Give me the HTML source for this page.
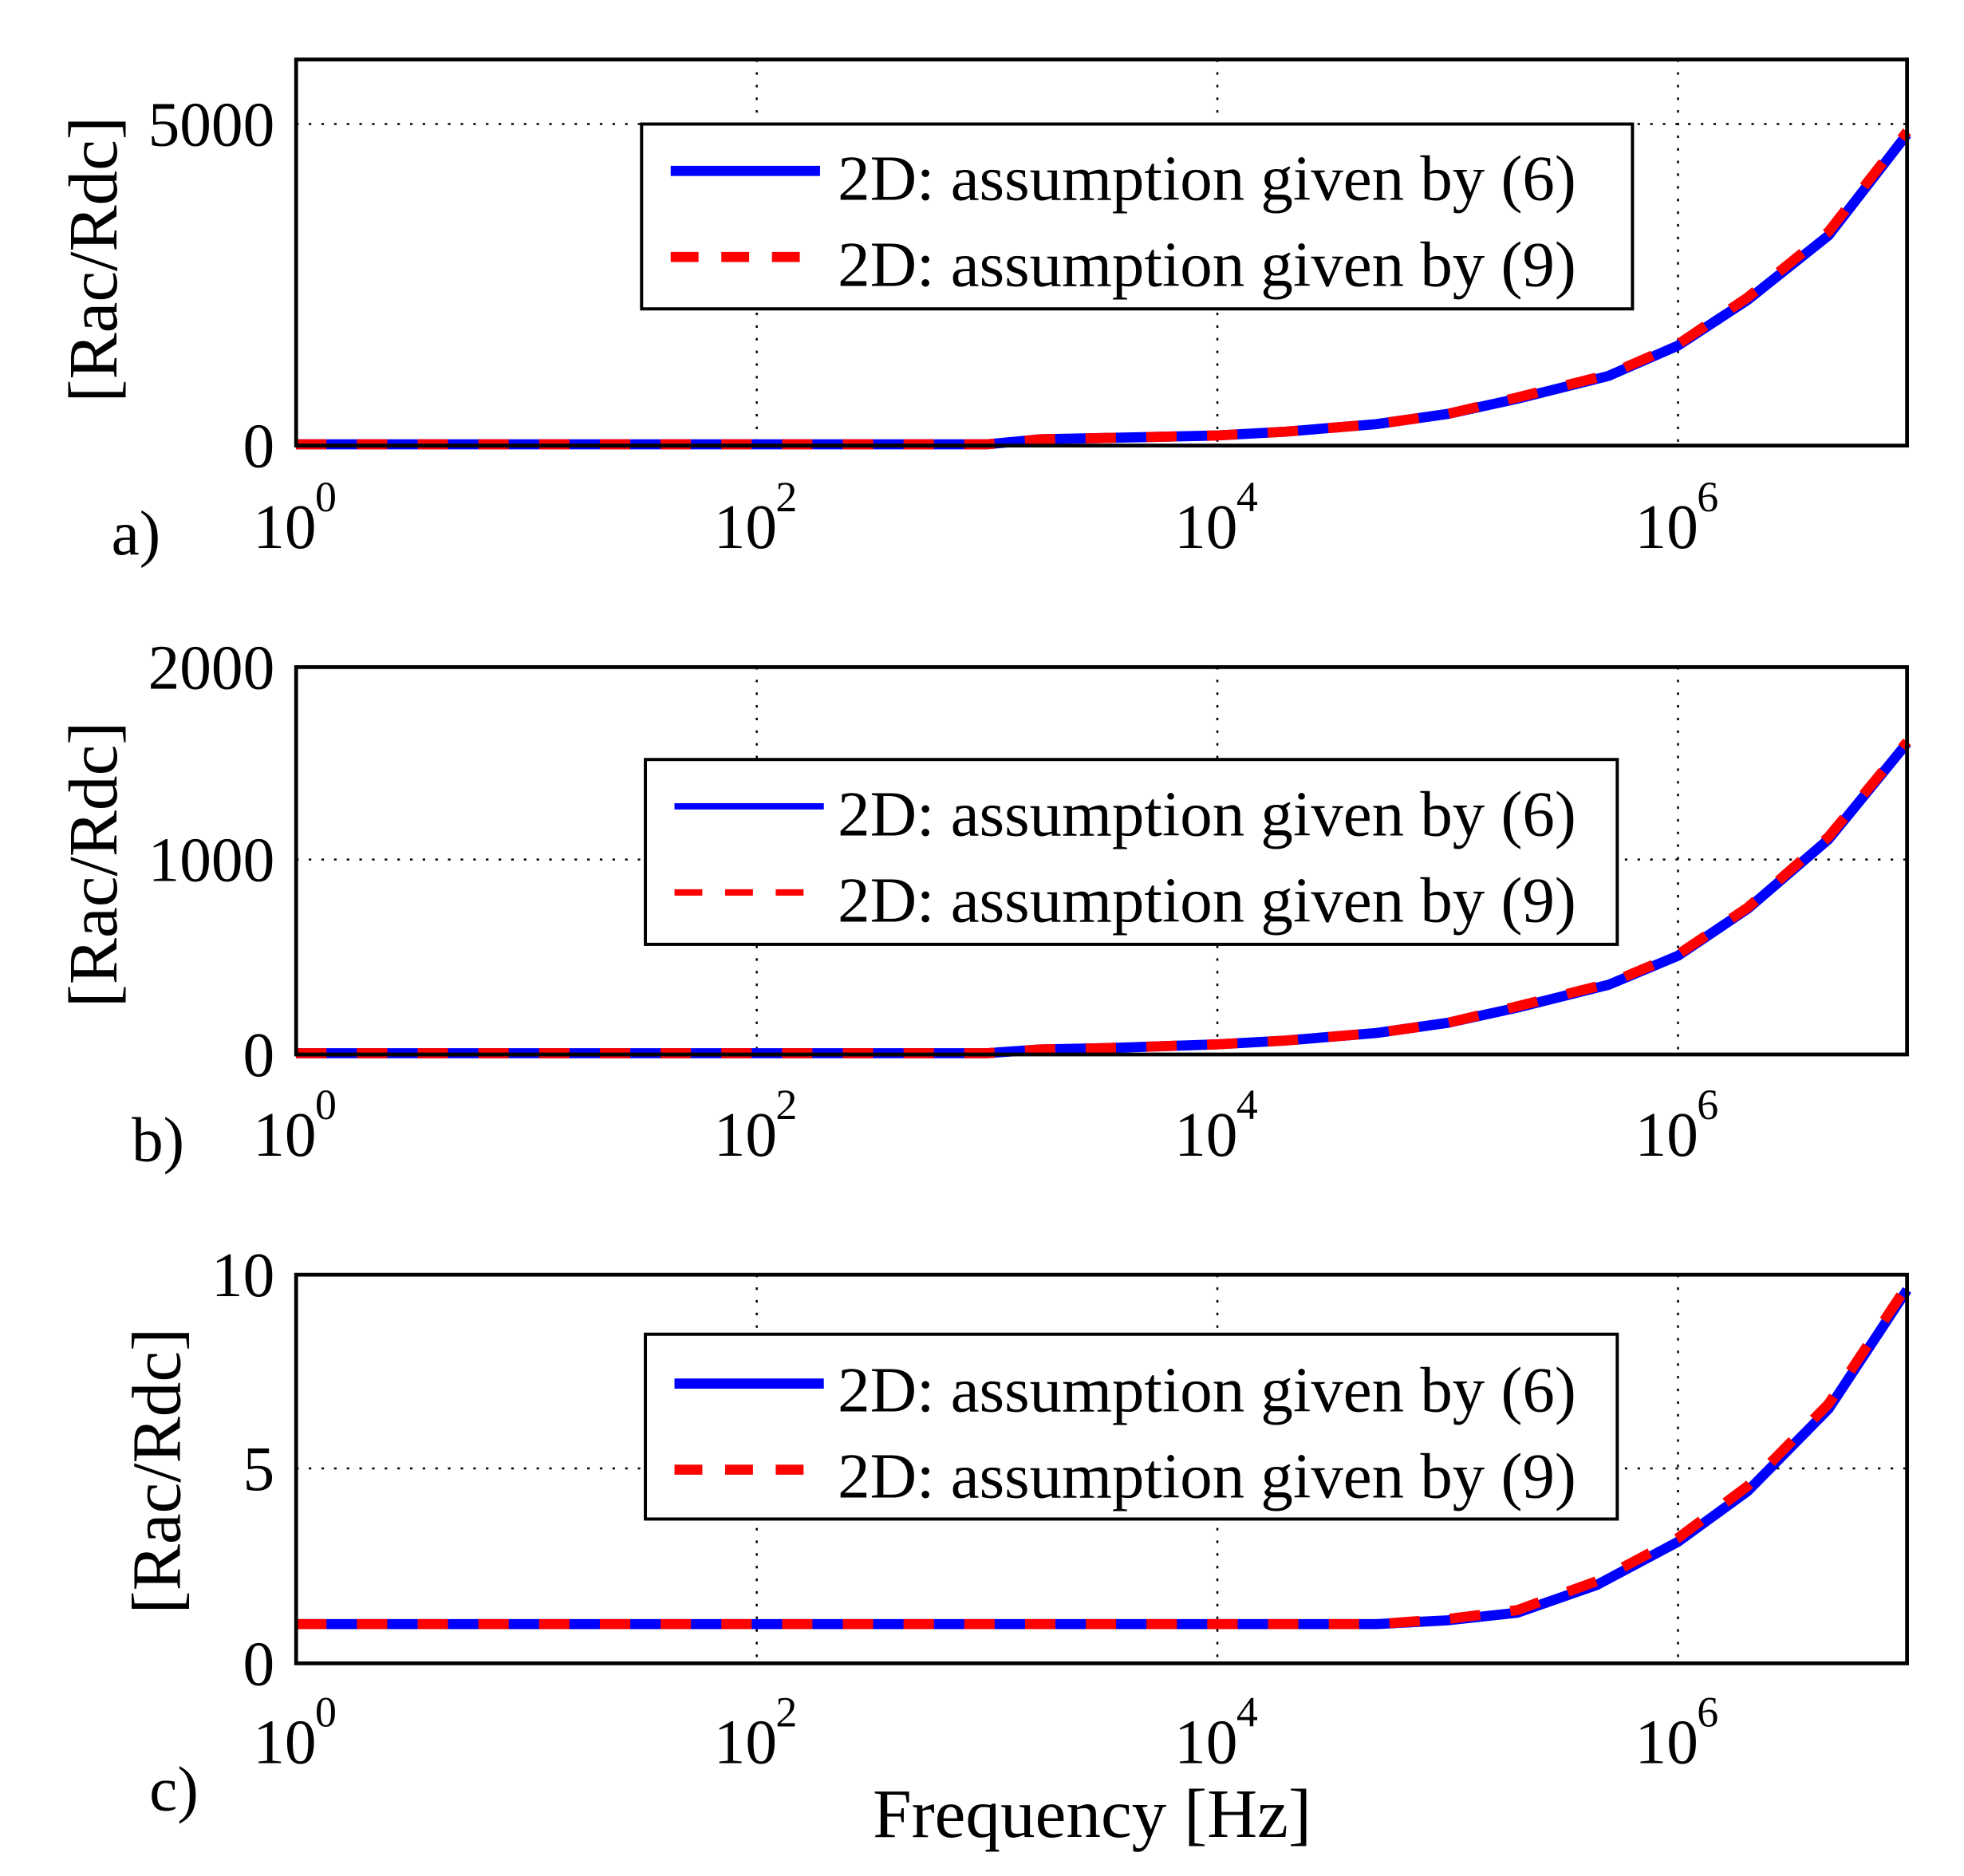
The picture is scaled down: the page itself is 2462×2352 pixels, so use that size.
<!DOCTYPE html>
<html><head><meta charset="utf-8"><style>
html,body{margin:0;padding:0;background:#fff;}
svg{display:block;}
text{font-family:"Liberation Serif",serif;fill:#000;}
</style></head><body>
<svg width="2462" height="2352" viewBox="0 0 1552 1482" preserveAspectRatio="none" xmlns="http://www.w3.org/2000/svg">

<!-- ===== Plot a ===== -->
<g>
<g stroke="#000" stroke-width="1.6" stroke-dasharray="2,8">
<line x1="598" y1="47" x2="598" y2="352"/><line x1="962" y1="47" x2="962" y2="352"/><line x1="1326" y1="47" x2="1326" y2="352"/>
<line x1="234" y1="98" x2="1507" y2="98"/>
</g>
<polyline fill="none" stroke="#0000ff" stroke-width="8" points="234,351 780,351 822,347 873,346 962,344 1016,341 1088,335 1144,327 1199,315 1271,297 1326,273 1381,237 1445,186 1507,106"/>
<polyline fill="none" stroke="#ff0000" stroke-width="8" stroke-dasharray="24,24" points="234,351 780,351 822,347 873,346 962,344 1016,341 1088,335 1144,327 1199,314 1271,296 1326,272 1381,235 1445,183 1507,104"/>
<rect x="234" y="47" width="1273" height="305" fill="none" stroke="#000" stroke-width="3"/>
<rect x="507" y="98" width="783" height="146" fill="#fff" stroke="#000" stroke-width="2.5"/>
<line x1="530" y1="135" x2="648" y2="135" stroke="#0000ff" stroke-width="8"/>
<line x1="530" y1="203" x2="648" y2="203" stroke="#ff0000" stroke-width="8" stroke-dasharray="22,18"/>
<text x="662" y="158" font-size="51">2D: assumption given by (6)</text>
<text x="662" y="226" font-size="51">2D: assumption given by (9)</text>
<text x="217" y="115" font-size="50" text-anchor="end">5000</text>
<text x="217" y="369" font-size="50" text-anchor="end">0</text>
<text transform="translate(92,205) rotate(-90)" font-size="55" text-anchor="middle">[Rac/Rdc]</text>
<text x="88" y="438" font-size="50">a)</text>
<text x="200" y="433" font-size="50">10</text><text x="249" y="404" font-size="34">0</text>
<text x="564" y="433" font-size="50">10</text><text x="613" y="404" font-size="34">2</text>
<text x="928" y="433" font-size="50">10</text><text x="977" y="404" font-size="34">4</text>
<text x="1292" y="433" font-size="50">10</text><text x="1341" y="404" font-size="34">6</text>
</g>

<!-- ===== Plot b ===== -->
<g>
<g stroke="#000" stroke-width="1.6" stroke-dasharray="2,8">
<line x1="598" y1="527" x2="598" y2="833"/><line x1="962" y1="527" x2="962" y2="833"/><line x1="1326" y1="527" x2="1326" y2="833"/>
<line x1="234" y1="679" x2="1507" y2="679"/>
</g>
<polyline fill="none" stroke="#0000ff" stroke-width="8" points="234,832 780,832 822,829 873,828 962,825 1016,822 1088,816 1144,808 1199,796 1271,778 1326,755 1381,718 1445,663 1507,587"/>
<polyline fill="none" stroke="#ff0000" stroke-width="8" stroke-dasharray="24,24" points="234,832 780,832 822,829 873,828 962,825 1016,822 1088,816 1144,808 1199,795 1271,777 1326,754 1381,717 1445,661 1507,586"/>
<rect x="234" y="527" width="1273" height="306" fill="none" stroke="#000" stroke-width="3"/>
<rect x="510" y="600" width="768" height="146" fill="#fff" stroke="#000" stroke-width="2.5"/>
<line x1="533" y1="637" x2="651" y2="637" stroke="#0000ff" stroke-width="5"/>
<line x1="533" y1="705" x2="651" y2="705" stroke="#ff0000" stroke-width="5" stroke-dasharray="22,18"/>
<text x="662" y="660" font-size="51">2D: assumption given by (6)</text>
<text x="662" y="728" font-size="51">2D: assumption given by (9)</text>
<text x="217" y="544" font-size="50" text-anchor="end">2000</text>
<text x="217" y="696" font-size="50" text-anchor="end">1000</text>
<text x="217" y="850" font-size="50" text-anchor="end">0</text>
<text transform="translate(92,683) rotate(-90)" font-size="55" text-anchor="middle">[Rac/Rdc]</text>
<text x="104" y="917" font-size="50">b)</text>
<text x="200" y="913" font-size="50">10</text><text x="249" y="884" font-size="34">0</text>
<text x="564" y="913" font-size="50">10</text><text x="613" y="884" font-size="34">2</text>
<text x="928" y="913" font-size="50">10</text><text x="977" y="884" font-size="34">4</text>
<text x="1292" y="913" font-size="50">10</text><text x="1341" y="884" font-size="34">6</text>
</g>

<!-- ===== Plot c ===== -->
<g>
<g stroke="#000" stroke-width="1.6" stroke-dasharray="2,8">
<line x1="598" y1="1007" x2="598" y2="1314"/><line x1="962" y1="1007" x2="962" y2="1314"/><line x1="1326" y1="1007" x2="1326" y2="1314"/>
<line x1="234" y1="1160" x2="1507" y2="1160"/>
</g>
<polyline fill="none" stroke="#0000ff" stroke-width="8" points="234,1283 1088,1283 1144,1280 1199,1274 1262,1252 1326,1218 1381,1178 1445,1113 1507,1019"/>
<polyline fill="none" stroke="#ff0000" stroke-width="8" stroke-dasharray="24,24" points="234,1283 1088,1283 1144,1279 1199,1272 1262,1249 1326,1215 1381,1174 1445,1109 1507,1016"/>
<rect x="234" y="1007" width="1273" height="307" fill="none" stroke="#000" stroke-width="3"/>
<rect x="510" y="1054" width="768" height="146" fill="#fff" stroke="#000" stroke-width="2.5"/>
<line x1="533" y1="1093" x2="651" y2="1093" stroke="#0000ff" stroke-width="8"/>
<line x1="533" y1="1161" x2="651" y2="1161" stroke="#ff0000" stroke-width="8" stroke-dasharray="22,18"/>
<text x="662" y="1115" font-size="51">2D: assumption given by (6)</text>
<text x="662" y="1183" font-size="51">2D: assumption given by (9)</text>
<text x="217" y="1024" font-size="50" text-anchor="end">10</text>
<text x="217" y="1177" font-size="50" text-anchor="end">5</text>
<text x="217" y="1331" font-size="50" text-anchor="end">0</text>
<text transform="translate(142,1162) rotate(-90)" font-size="55" text-anchor="middle">[Rac/Rdc]</text>
<text x="118" y="1430" font-size="50">c)</text>
<text x="200" y="1393" font-size="50">10</text><text x="249" y="1364" font-size="34">0</text>
<text x="564" y="1393" font-size="50">10</text><text x="613" y="1364" font-size="34">2</text>
<text x="928" y="1393" font-size="50">10</text><text x="977" y="1364" font-size="34">4</text>
<text x="1292" y="1393" font-size="50">10</text><text x="1341" y="1364" font-size="34">6</text>
<text x="863" y="1451" font-size="55" text-anchor="middle">Frequency [Hz]</text>
</g>
</svg>
</body></html>
